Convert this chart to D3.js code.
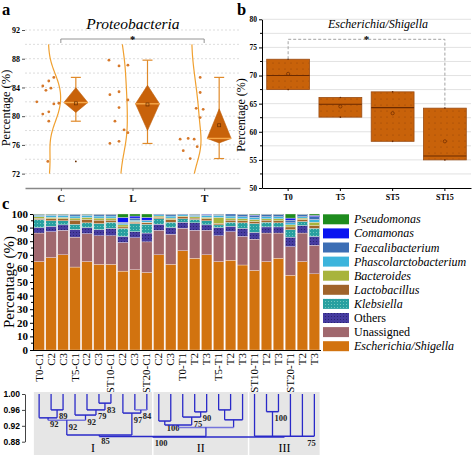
<!DOCTYPE html>
<html><head><meta charset="utf-8">
<script src="https://cdn.jsdelivr.net/npm/d3@7"></script>
<style>body{margin:0;background:#fff}svg{display:block}</style>
</head><body><svg id="chart" width="473" height="455"></svg>
<script>
// ---------------- DATA ----------------
// Panel a : Proteobacteria (%)
const groupsA = ["C", "L", "T"];
const pointsC = [82.0, 84.2, 83.6, 84.9, 83.9, 85.4, 81.7, 81.8, 80.3, 80.6, 79.3, 73.7];
const pointsL = [87.8, 87.0, 87.1, 83.0, 83.4, 82.25, 81.2, 79.3, 78.1, 77.7, 76.5, 76.2];
const pointsT = [85.4, 83.3, 81.1, 80.95, 79.8, 76.8, 76.9, 76.8, 75.2, 75.75, 74.1];
// horizontal jitter of the scatter (fraction of scatter band)
const jitterC = [0.04, 0.29, 0.42, 0.54, 0.63, 0.75, 0.75, 0.96, 0.29, 0.54, 0.54, 0.5];
const jitterL = [0.06, 0.48, 0.85, 0.1, 0.48, 0.85, 0.48, 0.31, 0.69, 0.85, 0.48, 0.1];
const jitterT = [0.875, 0.875, 0.71, 1.0, 0.875, 0.04, 0.375, 0.625, 0.17, 0.75, 0.46];
const ticksA = [72, 76, 80, 84, 88, 92];

// Panel b : Escherichia/Shigella (%)
const catsB = ["T0", "T5", "ST5", "ST15"];
const bQ1 = [67.5, 62.6, 58.3, 55.0];
const bMedian = [70.0, 64.9, 64.3, 55.7];
const bQ3 = [72.9, 66.1, 67.1, 64.2];
const bMean = [70.3, 64.5, 63.3, 58.3];
const ticksB = [50, 55, 60, 65, 70, 75, 80];

// Panel c : stacked composition (%)
const samples = ["T0-C1","C2","C3","T5-C1","C2","C3","ST10-C1","C2","C3","ST20-C1","C2","C3",
                 "T0-T1","T2","T3","T5-T1","T2","T3","ST10-T1","T2","T3","ST20-T1","T2","T3"];
const escherichia   = [65, 68, 70, 61, 65, 63, 63, 58, 59, 57, 70, 63, 73, 67.5, 70, 65, 66, 62.5, 58.5, 65, 67.5, 55, 65, 56];
const unassigned    = [21, 19, 18, 22, 20.5, 21, 21, 21, 23.5, 22.5, 18, 22, 16.5, 20.5, 18, 19, 21, 21, 23, 21, 18.5, 21, 21, 21];
const others        = [4, 4, 4, 5.5, 4.5, 4.5, 5.5, 4.5, 4.5, 6.5, 4.5, 5, 4.5, 5.5, 4, 6, 4, 6, 5, 4.5, 4.5, 7, 5.5, 6.5];
const klebsiella    = [6, 4, 3, 4, 3.5, 4.5, 4.5, 6, 6, 6.5, 4, 4, 2.5, 2.5, 3, 2, 3, 4, 6.5, 3.5, 3, 5.5, 3, 6];
const lactobacillus = [0.8, 1.5, 1.5, 3, 2.5, 2.5, 1.5, 1, 1, 1, 1, 2, 1.5, 1, 1.5, 1, 1.5, 1.5, 1.5, 1.5, 1.5, 2, 1.5, 2];
const bacteroides   = [1.2, 1, 1, 1.5, 1.5, 1.5, 1.5, 1.5, 0.5, 0.5, 1, 1, 0.5, 1, 1, 4.5, 1.5, 1.5, 1.5, 1, 1.5, 1.5, 1, 2.5];
const phascolarcto  = [1, 1.5, 1.5, 1.5, 1.5, 1.5, 1.5, 1, 1, 1, 1, 1.5, 1, 1, 1.5, 1.5, 1.5, 1.5, 1.5, 1.5, 1.5, 1.5, 1, 2];
const faecali       = [0.5, 0.5, 0.5, 1, 0.5, 1, 1, 1, 1.5, 0.5, 0.5, 1, 0.5, 0.5, 0.8, 0.5, 1.5, 1.5, 1.5, 1.5, 1.5, 2, 1.5, 2];
const comamonas     = [0.2, 0.2, 0.2, 0.3, 0.2, 0.3, 0.3, 3.5, 1.5, 2, 0, 0.3, 0, 0.3, 0.2, 0.3, 0, 0.3, 0.5, 0.3, 0.3, 1.5, 0.3, 1];
const pseudomonas   = [0.3, 0.3, 0.3, 0.2, 0.3, 0.2, 0.2, 2.5, 1.5, 2.5, 0, 0.2, 0, 0.2, 0, 0.2, 0, 0.2, 0.5, 0.2, 0.2, 3, 0.2, 1];
const taxaNames = ["Escherichia/Shigella","Unassigned","Others","Klebsiella","Lactobacillus",
                   "Bacteroides","Phascolarctobacterium","Faecalibacterium","Comamonas","Pseudomonas"];
const ticksC = [0,10,20,30,40,50,60,70,80,90,100];

// Dendrogram (similarity)
const dendroTicks = [1.00, 0.96, 0.92, 0.88];
const dendroNodes = [
  {id:"n0",  kids:[1,2],          sim:0.960, label:"89"},
  {id:"n1",  kids:[0,"n0"],       sim:0.940, label:"92"},
  {id:"n2",  kids:[5,6],          sim:0.977, label:"83"},
  {id:"n3",  kids:[4,"n2"],       sim:0.960, label:"79"},
  {id:"n4",  kids:[3,"n3"],       sim:0.947, label:"92"},
  {id:"n5",  kids:["n1","n4"],    sim:0.934, label:"92"},
  {id:"n6",  kids:[8,9],          sim:0.960, label:"84"},
  {id:"n7",  kids:[7,"n6"],       sim:0.952, label:"97"},
  {id:"n8",  kids:["n5","n7"],    sim:0.897, label:"85"},
  {id:"n9",  kids:[13,14],        sim:0.955, label:"90"},
  {id:"n10", kids:[12,"n9"],      sim:0.942, label:"75"},
  {id:"n11", kids:[10,11],        sim:0.932, label:"100"},
  {id:"n12", kids:["n11","n10"],  sim:0.922, label:""},
  {id:"n13", kids:[15,16],        sim:0.960, label:""},
  {id:"n14", kids:["n13",17],     sim:0.935, label:""},
  {id:"n15", kids:["n12","n14"],  sim:0.916, label:""},
  {id:"n16", kids:["n8","n15"],   sim:0.893, label:"100"},
  {id:"n17", kids:[19,20],        sim:0.9555, label:"100"},
  {id:"n18", kids:[18,"n17",21,22,23], sim:0.894, label:"75"},
  {id:"n19", kids:["n16","n18"],  sim:0.892, label:""}
];
const clusterNames = ["I", "II", "III"];
const clusterFirst = [0, 10, 18];
const clusterLast  = [9, 17, 23];

// ---------------- STYLE ----------------
const SERIF = "'Liberation Serif','Times New Roman','DejaVu Serif',serif";
const SANS = "'Liberation Sans',Arial,sans-serif";
const ORANGE = "#c8620a";
const taxaColors = ["#d2730f","#a0686e","#463ca0","#28a0a0","#a0642a","#a8b43c","#3cb4dc","#3c6eb4","#0a14f0","#1e8c1e"];
const lightNodes = new Set(["n5","n6","n15"]);

const svg = d3.select("#chart");
const defs = svg.append("defs");
function dotPattern(id, bg, fg, step, r){
  const p = defs.append("pattern").attr("id",id).attr("width",step).attr("height",step).attr("patternUnits","userSpaceOnUse");
  p.append("rect").attr("width",step).attr("height",step).attr("fill",bg);
  p.append("circle").attr("cx",step/2).attr("cy",step/2).attr("r",r).attr("fill",fg);
}
dotPattern("patKleb", "#28a0a0", "#7fd0c4", 3, 0.55);
dotPattern("patOthers", "#463ca0", "#24206a", 3, 0.55);
dotPattern("patBox", ORANGE, "#8a3c05", 6, 0.5);

// panel letters
[["a",2,15],["b",237,15],["c",2,209]].forEach(([t,x,y]) =>
  svg.append("text").attr("x",x).attr("y",y).text(t)
    .attr("font-family",SERIF).attr("font-weight","bold").attr("font-size",16.5));

function yLabel(x, y, size){
  svg.append("text").attr("transform",`translate(${x},${y}) rotate(-90)`)
    .attr("text-anchor","middle").attr("font-family",SERIF).attr("font-size",size)
    .text("Percentage (%)");
}

// ---------------- PANEL A ----------------
(function(){
  const ya = d3.scaleLinear().domain([70,92]).range([188,30]);
  const xa = d3.scalePoint().domain(groupsA).range([25,240]).padding(0.5);
  const g = svg.append("g");
  g.selectAll("line.grid").data(d3.range(72,92.01,2)).join("line")
    .attr("x1",25).attr("x2",240).attr("y1",d=>ya(d)).attr("y2",d=>ya(d))
    .attr("stroke","#cfcfcf").attr("stroke-width",0.7).attr("stroke-dasharray","2,2");
  const ay = g.append("g").attr("transform","translate(25,0)")
    .call(d3.axisLeft(ya).tickValues(ticksA).tickSize(3).tickPadding(2));
  ay.select(".domain").remove();
  ay.selectAll("line").attr("stroke","#555");
  ay.selectAll("text").attr("font-family",SERIF).attr("font-weight","bold").attr("font-size",8);
  const ax = g.append("g").attr("transform","translate(0,188)")
    .call(d3.axisBottom(xa).tickSize(3).tickSizeOuter(0).tickPadding(3));
  ax.select(".domain").attr("stroke","#888").attr("stroke-width",1.5);
  ax.selectAll("line").attr("stroke","#666");
  ax.selectAll("text").attr("font-family",SERIF).attr("font-weight","bold").attr("font-size",11).attr("fill","#111");
  yLabel(10, 108, 12.5);
  svg.append("text").attr("x",133).attr("y",28.5).attr("text-anchor","middle")
    .attr("font-family",SERIF).attr("font-style","italic").attr("font-size",15.5).text("Proteobacteria");
  // significance bracket
  g.append("path").attr("d",`M${xa("C")},43V39H${xa("T")}V43`).attr("fill","none").attr("stroke","#888").attr("stroke-width",0.9);
  g.append("text").attr("x",(xa("C")+xa("T"))/2).attr("y",42.5).attr("text-anchor","middle")
    .attr("font-family",SERIF).attr("font-weight","bold").attr("font-size",10.5).text("*");

  const pts = {C:pointsC, L:pointsL, T:pointsT};
  const jit = {C:jitterC, L:jitterL, T:jitterT};
  groupsA.forEach(k => {
    const cx = xa(k), vals = pts[k];
    const sd = d3.deviation(vals), bw = 1.06*sd*Math.pow(vals.length,-0.2);
    const grid = d3.range(72, 90.001, 0.2);
    const dens = grid.map(y => [y, d3.mean(vals, v => Math.exp(-0.5*((y-v)/bw)**2))/(bw*Math.sqrt(2*Math.PI))]);
    g.append("path").attr("d", d3.line().x(d => cx-12.5 + d[1]*100).y(d => ya(d[0])).curve(d3.curveBasis)(dens))
      .attr("fill","none").attr("stroke","#f0a030").attr("stroke-width",1.2);
    g.selectAll(null).data(vals).join("circle")
      .attr("cx",(d,i)=> cx-25 + jit[k][i]*24).attr("cy",d=>ya(d)).attr("r",1.4).attr("fill","#d6782a");
    const s = vals.slice().sort(d3.ascending);
    const q1 = d3.quantile(s,.25), med = d3.quantile(s,.5), q3 = d3.quantile(s,.75), iqr = q3-q1;
    const lo = d3.min(s.filter(v => v >= q1-1.5*iqr)), hi = d3.max(s.filter(v => v <= q3+1.5*iqr));
    const bx = cx + 15, hw = 12;
    g.append("line").attr("x1",bx).attr("x2",bx).attr("y1",ya(hi)).attr("y2",ya(lo)).attr("stroke","#e08a2a").attr("stroke-width",1.2);
    [hi,lo].forEach(v => g.append("line").attr("x1",bx-5).attr("x2",bx+5).attr("y1",ya(v)).attr("y2",ya(v)).attr("stroke","#e08a2a").attr("stroke-width",1.2));
    g.append("path").attr("d",`M${bx},${ya(q3)}L${bx+hw},${ya(med)}L${bx},${ya(q1)}L${bx-hw},${ya(med)}Z`)
      .attr("fill",ORANGE).attr("stroke","#c0600c").attr("stroke-width",0.6);
    g.append("line").attr("x1",bx-hw).attr("x2",bx+hw).attr("y1",ya(med)).attr("y2",ya(med)).attr("stroke","#f7a84a").attr("stroke-width",1.4);
    const mean = d3.mean(vals);
    g.append("rect").attr("x",bx-1.5).attr("y",ya(mean)-1.5).attr("width",3).attr("height",3).attr("fill","none").attr("stroke","#6a3000").attr("stroke-width",0.7);
    s.filter(v => v<lo || v>hi).forEach(v => g.append("circle").attr("cx",bx).attr("cy",ya(v)).attr("r",0.9).attr("fill","#6a3000"));
  });
})();

// ---------------- PANEL B ----------------
(function(){
  const yb = d3.scaleLinear().domain([50,80]).range([188,19.3]);
  const xb = d3.scaleBand().domain(catsB).range([262,471]).paddingInner(0.18).paddingOuter(0.09);
  const g = svg.append("g");
  g.selectAll("line.grid").data(d3.range(52.5,80.01,2.5)).join("line")
    .attr("x1",262).attr("x2",471).attr("y1",d=>yb(d)).attr("y2",d=>yb(d))
    .attr("stroke","#dadada").attr("stroke-width",0.8);
  const ay = g.append("g").attr("transform","translate(262,0)")
    .call(d3.axisLeft(yb).tickValues(ticksB).tickSize(3).tickSizeOuter(0).tickPadding(2));
  ay.selectAll("text").attr("font-family",SERIF).attr("font-weight","bold").attr("font-size",7.5);
  g.selectAll("line.minor").data(d3.range(52.5,80,5)).join("line")
    .attr("x1",260).attr("x2",262).attr("y1",d=>yb(d)).attr("y2",d=>yb(d)).attr("stroke","#000");
  const ax = g.append("g").attr("transform","translate(0,188)")
    .call(d3.axisBottom(xb).tickSize(3).tickSizeOuter(0).tickPadding(3));
  ax.selectAll("text").attr("font-family",SERIF).attr("font-weight","bold").attr("font-size",8);
  yLabel(245, 115, 12);
  svg.append("text").attr("x",378).attr("y",28).attr("text-anchor","middle")
    .attr("font-family",SERIF).attr("font-style","italic").attr("font-size",12).text("Escherichia/Shigella");
  catsB.forEach((c,i) => {
    const x = xb(c), w = xb.bandwidth(), cx = x + w/2;
    g.append("rect").attr("x",x).attr("y",yb(bQ3[i])).attr("width",w).attr("height",yb(bQ1[i])-yb(bQ3[i]))
      .attr("fill","url(#patBox)").attr("stroke","#9a4c14").attr("stroke-width",0.8);
    g.append("line").attr("x1",x).attr("x2",x+w).attr("y1",yb(bMedian[i])).attr("y2",yb(bMedian[i]))
      .attr("stroke","#6b2a00").attr("stroke-width",1.1);
    g.append("circle").attr("cx",cx).attr("cy",yb(bMean[i])).attr("r",1.6).attr("fill","none").attr("stroke","#6b2a00").attr("stroke-width",0.7);
    [bQ1[i], bQ3[i]].forEach(v => g.append("circle").attr("cx",cx).attr("cy",yb(v)).attr("r",0.8).attr("fill","#6b2a00"));
  });
  const x0 = xb("T0")+xb.bandwidth()/2, x3 = xb("ST15")+xb.bandwidth()/2;
  g.append("path").attr("d",`M${x0},${yb(bQ3[0])}V39.3H${x3}V${yb(bQ3[3])}`)
    .attr("fill","none").attr("stroke","#999").attr("stroke-width",0.9).attr("stroke-dasharray","3,2");
  g.append("text").attr("x",(x0+x3)/2).attr("y",43).attr("text-anchor","middle")
    .attr("font-family",SERIF).attr("font-weight","bold").attr("font-size",11).text("*");
})();

// ---------------- PANEL C ----------------
const xc = d3.scaleBand().domain(d3.range(samples.length)).range([33.5,320]).paddingInner(0.12).paddingOuter(0.03);
(function(){
  const yc = d3.scaleLinear().domain([0,100]).range([350,214]);
  const g = svg.append("g");
  const series = [escherichia, unassigned, others, klebsiella, lactobacillus, bacteroides, phascolarcto, faecali, comamonas, pseudomonas];
  const rows = samples.map((s,i) => { const r = {i}; taxaNames.forEach((t,k) => r[t] = series[k][i]); return r; });
  const stack = d3.stack().keys(taxaNames)(rows);
  const fillFor = k => k===3 ? "url(#patKleb)" : k===2 ? "url(#patOthers)" : taxaColors[k];
  stack.forEach((layer,k) => {
    g.selectAll(null).data(layer).join("rect")
      .attr("x",d => xc(d.data.i)).attr("width",xc.bandwidth())
      .attr("y",d => yc(d[1])).attr("height",d => Math.max(0, yc(d[0])-yc(d[1])))
      .attr("fill",fillFor(k)).attr("stroke","#f8ece8").attr("stroke-width",0.35);
  });
  const ay = g.append("g").attr("transform","translate(33,0)")
    .call(d3.axisLeft(yc).tickValues(ticksC).tickSize(3).tickSizeOuter(0).tickPadding(2));
  ay.selectAll("text").attr("font-family",SERIF).attr("font-weight","bold").attr("font-size",11);
  g.selectAll("line.minor").data(d3.range(5,100,10)).join("line")
    .attr("x1",31).attr("x2",33).attr("y1",d=>yc(d)).attr("y2",d=>yc(d)).attr("stroke","#000");
  g.append("line").attr("x1",33).attr("x2",321).attr("y1",350.5).attr("y2",350.5).attr("stroke","#000");
  g.selectAll("text.lab").data(samples).join("text")
    .attr("transform",(d,i) => `translate(${xc(i)+xc.bandwidth()/2+3.5},353) rotate(-90)`)
    .attr("text-anchor","end").attr("font-family",SERIF).attr("font-size",11).text(d => d);
  yLabel(14, 282, 15);
  // legend (top to bottom: reverse stack order)
  const legOrder = d3.range(taxaNames.length).reverse();
  legOrder.forEach((k,j) => {
    const y = 214.3 + j*14.1;
    g.append("rect").attr("x",323).attr("y",y).attr("width",26).attr("height",10).attr("fill",fillFor(k));
    const italic = !(taxaNames[k]==="Others" || taxaNames[k]==="Unassigned");
    g.append("text").attr("x",354).attr("y",y+9).attr("font-family",SERIF).attr("font-size",12)
      .attr("font-style",italic ? "italic" : "normal").text(taxaNames[k]);
  });
})();

// ---------------- DENDROGRAM ----------------
(function(){
  const yd = d3.scaleLinear().domain([0.88,1.00]).range([441.7,394]);
  const g = svg.append("g");
  clusterNames.forEach((n,c) => {
    const x0 = xc(clusterFirst[c]), x1 = xc(clusterLast[c]) + xc.bandwidth();
    g.append("rect").attr("x",x0).attr("y",392).attr("width",x1-x0).attr("height",63).attr("fill","#e6e6e6");
    g.append("text").attr("x",(x0+x1)/2).attr("y",452).attr("text-anchor","middle")
      .attr("font-family",SERIF).attr("font-size",12).text(n);
  });
  const ay = g.append("g").attr("transform","translate(25,0)")
    .call(d3.axisLeft(yd).tickValues(dendroTicks).tickFormat(d3.format(".2f")).tickSize(3).tickSizeOuter(0).tickPadding(2));
  ay.selectAll("path,line").attr("stroke","#444");
  ay.selectAll("text").attr("font-family",SANS).attr("font-weight","bold").attr("font-size",8.5);
  const pos = {};
  samples.forEach((s,i) => pos[i] = {x: xc(i)+xc.bandwidth()/2, y: yd(1.0)});
  dendroNodes.forEach(n => {
    const ks = n.kids.map(k => pos[k]);
    const xmin = d3.min(ks, p => p.x), xmax = d3.max(ks, p => p.x);
    const y = yd(n.sim);
    pos[n.id] = {x: (xmin+xmax)/2, y};
    const col = lightNodes.has(n.id) ? "#7474dc" : "#2a2ac8";
    ks.forEach(p => g.append("line").attr("x1",p.x).attr("x2",p.x).attr("y1",p.y).attr("y2",y).attr("stroke","#2a2ac8").attr("stroke-width",1.3));
    g.append("line").attr("x1",xmin).attr("x2",xmax).attr("y1",y).attr("y2",y).attr("stroke",col).attr("stroke-width",1.5);
    if (n.label) {
      const poly = n.kids.length > 2;
      g.append("text").attr("x", poly ? xmax - 3 : (xmin+xmax)/2 + 2).attr("y", y + 9.5)
        .attr("text-anchor", poly ? "middle" : "start")
        .attr("font-family",SERIF).attr("font-weight","bold").attr("font-size",8.5).attr("fill","#222").text(n.label);
    }
  });
})();
</script></body></html>
